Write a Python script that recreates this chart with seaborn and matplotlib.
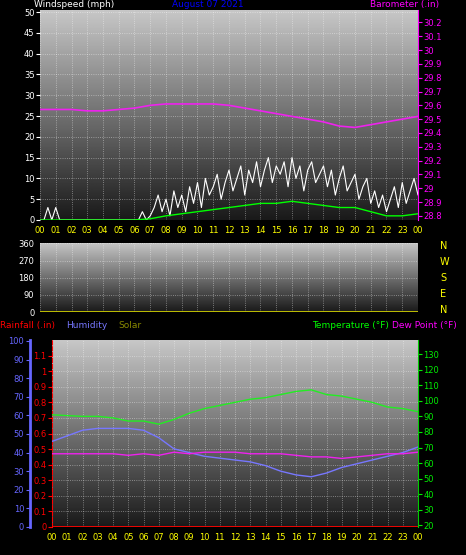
import numpy as np
import matplotlib
matplotlib.use("Agg")
import matplotlib.pyplot as plt
import seaborn as sns

sns.set_style("dark")
plt.rcParams['font.family'] = ['DejaVu Sans']

hours = list(range(25))
hour_labels = [f"{h:02d}" for h in range(24)] + ["00"]
quarter = [i / 4 for i in range(97)]

gust = [0,0,3,0,3,0,0,0,0,0,0,0,0,0,0,0,0,0,0,0,0,0,0,0,0,
        0,2,0,1,3,6,2,5,1,7,3,6,
        2,8,4,9,3,10,6,8,11,5,9,12,
        7,10,13,6,12,9,14,8,12,15,9,13,
        11,14,8,15,10,13,7,12,14,9,11,13,
        8,12,6,10,13,7,9,11,5,8,10,4,
        7,3,6,2,5,8,3,9,4,7,10,6]
wind_avg = [0,0,0,0,0,0,0,0.3,1,1.5,2,2.5,3,3.5,4,4,4.5,4,3.5,3,3,2,1,1,1.5]
baro = [29.57,29.57,29.57,29.56,29.56,29.57,29.58,29.60,29.61,29.61,29.61,29.61,29.60,
        29.58,29.56,29.54,29.52,29.50,29.48,29.45,29.44,29.46,29.48,29.50,29.52]
wind_dir = [0] * 25
temp = [91,90.5,90,90,89,87,87,85,88,92,95,97,99,101,102,104,106,107,104,103,101,99,96,95,93]
humidity = [46,49,52,53,53,53,52,48,42,40,38,37,36,35,33,30,28,27,29,32,34,36,38,40,43]
dewpt = [66,66,66,66,66,65,66,65,67,66,67,67,67,66,66,66,65,64,64,63,64,65,66,66,67]
rain = [0] * 25
solar = [0] * 25

W, H = 466, 555
fig = plt.figure(figsize=(W / 100, H / 100), dpi=100, facecolor="black")


def box(l, t, r, b):
    return [l / W, 1 - b / H, (r - l) / W, (b - t) / H]


grad = np.linspace(0.78, 0.1, 256).reshape(-1, 1)


def style(ax, ylim, yticks, tick_color, xlabels=True):
    ax.set_facecolor("black")
    ax.set_xlim(0, 24)
    ax.set_ylim(*ylim)
    ax.imshow(grad, cmap="gray", vmin=0, vmax=1, aspect="auto",
              extent=[0, 24, ylim[0], ylim[1]], zorder=0)
    ax.set_xticks(hours)
    ax.set_xticklabels(hour_labels if xlabels else [], color="yellow", fontsize=6)
    ax.set_yticks(yticks)
    ax.tick_params(axis="y", colors=tick_color, labelsize=6, length=3, pad=1)
    ax.tick_params(axis="x", length=2 if xlabels else 0, colors="yellow", pad=2)
    ax.grid(True, color="white", linestyle=":", linewidth=0.6, alpha=0.5)
    for s in ax.spines.values():
        s.set_visible(False)


def label(x, y, s, c):
    fig.text(x / W, 1 - y / H, s, color=c, fontsize=6.5, va="top")


# wind / barometer panel
ax1 = fig.add_axes(box(40, 10, 418, 220))
style(ax1, (0, 50.5), range(0, 51, 5), "white")
sns.lineplot(x=quarter, y=gust, ax=ax1, color="white", linewidth=0.8, zorder=3)
sns.lineplot(x=hours, y=wind_avg, ax=ax1, color="#00ff00", linewidth=1, zorder=4)
ax1b = ax1.twinx()
ax1b.set_ylim(28.77, 30.29)
sns.lineplot(x=hours, y=baro, ax=ax1b, color="#ee22ee", linewidth=1.2)
bt = np.round(np.arange(28.8, 30.25, 0.1), 1)
ax1b.set_yticks(bt)
ax1b.set_yticklabels([f"{v:g}" for v in bt])
ax1b.tick_params(axis="y", colors="#ff00ff", labelsize=6, length=3, pad=1)
ax1b.set_ylabel("")
for s in ax1b.spines.values():
    s.set_visible(False)
ax1b.spines["right"].set_visible(True)
ax1b.spines["right"].set_color("#ff00ff")
label(34, 0, "Windspeed (mph)", "white")
label(172, 0, "August 07 2021", "blue")
label(370, 0, "Barometer (.in)", "#ff00ff")

# wind direction panel
ax2 = fig.add_axes(box(40, 243, 418, 312))
style(ax2, (0, 362), range(0, 361, 90), "white", xlabels=False)
sns.lineplot(x=hours, y=wind_dir, ax=ax2, color="#cccc00", linewidth=2)
for i, lab in enumerate(["N", "W", "S", "E", "N"]):
    fig.text(440 / W, 1 - (246 + i * 16) / H, lab, color="yellow", fontsize=7,
             va="center")

# temperature / humidity panel
ax3 = fig.add_axes(box(52, 340, 418, 527))
rt = np.round(np.arange(0, 1.15, 0.1), 1)
style(ax3, (0, 1.2), rt, "red")
ax3.set_yticklabels([f"{v:g}" for v in rt])
ax3.spines["left"].set_visible(True)
ax3.spines["left"].set_color("red")
ax3.spines["left"].set_linestyle("--")
sns.lineplot(x=hours, y=rain, ax=ax3, color="red", linewidth=2, zorder=5)
sns.lineplot(x=hours, y=solar, ax=ax3, color="#888800", linewidth=1, zorder=4)

axh = ax3.twinx()
axh.set_ylim(0, 100.5)
axh.yaxis.set_ticks_position("left")
axh.spines["left"].set_position(("outward", 16))
axh.spines["left"].set_color("#6666ff")
axh.spines["left"].set_linewidth(2)
for k in ("right", "top", "bottom"):
    axh.spines[k].set_visible(False)
axh.set_yticks(range(0, 101, 10))
axh.tick_params(axis="y", colors="#6666ff", labelsize=6, length=3, pad=1)
sns.lineplot(x=hours, y=humidity, ax=axh, color="#7777ff", linewidth=1)
axh.set_ylabel("")

axt = ax3.twinx()
axt.set_ylim(19, 139)
for k in ("left", "top", "bottom"):
    axt.spines[k].set_visible(False)
axt.spines["right"].set_color("#00cc00")
axt.set_yticks(range(20, 131, 10))
axt.tick_params(axis="y", colors="#00ee00", labelsize=6, length=3, pad=1)
sns.lineplot(x=hours, y=temp, ax=axt, color="#22ee22", linewidth=1)
sns.lineplot(x=hours, y=dewpt, ax=axt, color="#ee22ee", linewidth=1)
axt.set_ylabel("")

label(0, 321, "Rainfall (.in)", "red")
label(66, 321, "Humidity", "#7777ff")
label(118, 321, "Solar", "#888800")
label(312, 321, "Temperature (°F)", "#00ff00")
label(392, 321, "Dew Point (°F)", "#ff00ff")

fig.savefig("out.png", dpi=100, facecolor="black")
